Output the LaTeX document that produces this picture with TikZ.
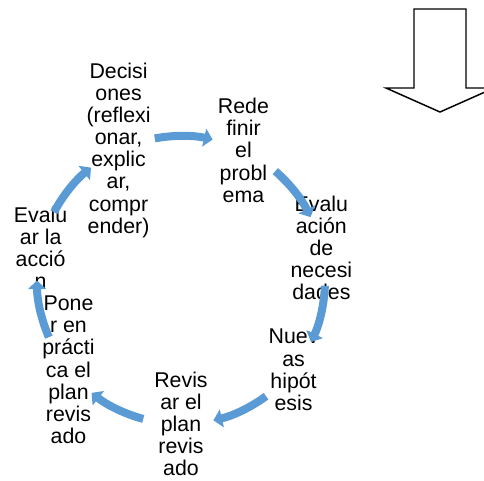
\documentclass[tikz,border=0pt]{standalone}
\usepackage{fontspec}
\setmainfont{Liberation Sans}
\usetikzlibrary{arrows.meta,calc}
\definecolor{cycblue}{RGB}{91,155,213}
\begin{document}
\begin{tikzpicture}[x=0.75pt,y=-0.75pt,
  lbl/.style={align=center,inner sep=0pt,font=\fontsize{16}{16.6}\selectfont},
  cyc/.style={draw=cycblue,line width=6pt,-{Triangle[width=13.5pt,length=6.5pt]}},
  blockarrow/.style={draw=black,line width=1.1pt,line join=miter,fill=white}]
\useasboundingbox (0,0) rectangle (484,480);
\clip (0,0) rectangle (484,480);
\coordinate (O) at (181,280);
% text nodes
\node[lbl] (n1) at ($(O)+(-115.7:144)$) {Decisi\\ones\\(reflexi\\onar,\\explic\\ar,\\compr\\ender)};
\node[lbl] (n2) at ($(O)+(-64.3:144)$) {Rede\\finir\\el\\probl\\ema};
\node[lbl] (n3) at ($(O)+(-12.9:144)$) {Evalu\\ación\\de\\necesi\\dades};
\node[lbl] (n4) at ($(O)+(38.6:144)$) {Nuev\\as\\hipót\\esis};
\node[lbl] (n5) at ($(O)+(90:144)$) {Revis\\ar el\\plan\\revis\\ado};
\node[lbl] (n6) at ($(O)+(141.4:144)$) {Pone\\r en\\prácti\\ca el\\plan\\revis\\ado};
\node[lbl] (n7) at ($(O)+(192.9:144)$) {Evalu\\ar la\\acció\\n};
% arrows
\foreach \i/\t in {1/-115.7,2/-64.3,3/-12.9,4/38.6,5/90,6/141.4,7/192.9}{
  \coordinate (s\i) at ($(O)+(\t+15.2:144)$);
  \draw[cyc] (s\i) arc[start angle=\t+15.2,end angle=\t+38.4,radius=144];
}
% block arrow
\coordinate (ba1) at (414,9);
\coordinate (ba2) at (466,9);
\coordinate (ba3) at (466,88);
\coordinate (ba4) at (494,88);
\coordinate (ba5) at (440,112);
\coordinate (ba6) at (386,88);
\coordinate (ba7) at (414,88);
\draw[blockarrow] (ba1) -- (ba2) -- (ba3) -- (ba4) -- (ba5) -- (ba6) -- (ba7) -- cycle;
\end{tikzpicture}
\end{document}
